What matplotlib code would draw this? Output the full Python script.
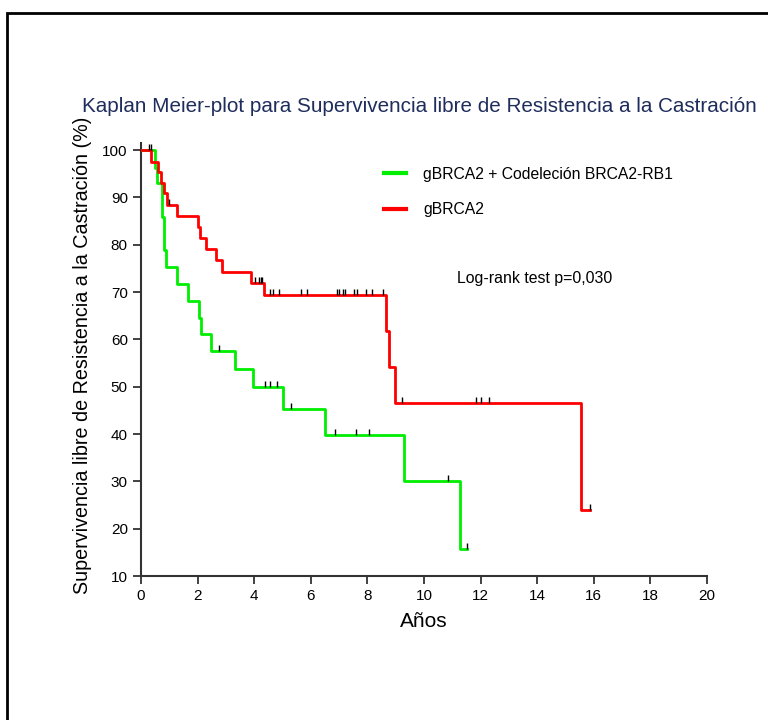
import numpy as np
import matplotlib.pyplot as plt
from matplotlib.patches import Rectangle
from matplotlib.path import Path

plt.rcParams['font.family'] = ['Liberation Sans', 'DejaVu Sans']

# Kaplan-Meier steps (years, % free of castration resistance)
codel_times = [0, 0.49, 0.58, 0.75, 0.82, 0.88, 1.28, 1.67, 2.05, 2.12, 2.47,
               3.32, 3.95, 5.0, 6.50, 9.29, 11.27, 11.51]
codel_surv = [100, 96.3, 93.0, 85.8, 78.9, 75.4, 71.7, 68.2, 64.6, 61.1, 57.5,
              53.7, 50.0, 45.2, 39.8, 30.0, 15.8, 15.8]
codel_censor = [0.37, 2.77, 4.38, 4.56, 4.82, 5.29, 6.86, 7.59, 8.06, 10.84, 11.51]

brca_times = [0, 0.34, 0.61, 0.69, 0.82, 0.91, 1.26, 2.0, 2.08, 2.30, 2.65,
              2.85, 3.88, 4.36, 8.65, 8.78, 8.97, 15.54, 15.87]
brca_surv = [100, 97.5, 95.3, 93.0, 90.9, 88.4, 86.1, 83.7, 81.4, 79.1, 76.7,
             74.2, 71.9, 69.4, 61.7, 54.1, 46.6, 23.9, 23.9]
brca_censor = [0.28, 0.99, 4.03, 4.18, 4.23, 4.29, 4.56, 4.65, 4.89, 5.65, 5.85,
               6.91, 7.0, 7.12, 7.21, 7.54, 7.62, 7.94, 8.17, 8.54, 9.23,
               11.84, 12.01, 12.30, 15.87]

labels = ["gBRCA2 + Codeleción BRCA2-RB1", "gBRCA2"]
colors = ["#00ee00", "#ff0000"]

x_ticks = np.arange(0, 21, 2)
y_ticks = np.arange(10, 101, 10)

fig = plt.figure(figsize=(7.68, 7.2), dpi=100)
ax = fig.add_axes([0.1836, 0.2, 0.737, 0.6014])

# censor tick: short vertical stroke sitting on top of the curve
tick_mark = Path([(0, 0), (0, 1)], [Path.MOVETO, Path.LINETO])


def km_curve(times, surv, censor, color, label):
    ax.step(times, surv, where="post", color=color, lw=2.0, label=label, zorder=3)
    idx = np.searchsorted(times, censor, side="right") - 1
    levels = np.array(surv)[idx]
    ax.plot(censor, levels, linestyle="none", marker=tick_mark, markersize=9,
            markeredgecolor="black", markeredgewidth=1.0, zorder=4)


km_curve(codel_times, codel_surv, codel_censor, colors[0], labels[0])
km_curve(brca_times, brca_surv, brca_censor, colors[1], labels[1])

ax.set_xlim(0, 20)
ax.set_ylim(10, 101.5)
ax.set_xticks(x_ticks)
ax.set_yticks(y_ticks)
ax.tick_params(direction="out", length=6, width=1.3, labelsize=11, color="#333333")
for side in ["top", "right"]:
    ax.spines[side].set_visible(False)
for side in ["left", "bottom"]:
    ax.spines[side].set_linewidth(1.5)
    ax.spines[side].set_color("#333333")

ax.set_ylabel("Supervivencia libre de Resistencia a la Castración (%)", fontsize=14.2)
ax.yaxis.set_label_coords(-0.087, 0.51)
ax.set_xlabel("Años", fontsize=15, va="top")
ax.xaxis.set_label_coords(0.5, -0.083)

ax.legend(loc="upper left", bbox_to_anchor=(0.429, 0.945), frameon=False,
          fontsize=11.3, handlelength=1.4, handletextpad=1.1,
          labelspacing=1.3, borderpad=0, borderaxespad=0)
for line in ax.get_legend().get_lines():
    line.set_linewidth(3)

ax.text(13.92, 72.8, "Log-rank test p=0,030", ha="center", va="center", fontsize=11.4)

fig.text(82 / 768, 0.852, "Kaplan Meier-plot para Supervivencia libre de Resistencia a la Castración",
         ha="left", va="center", fontsize=14.9, color="#1f2d5c")

# outer frame, cut off at the right and bottom edges
fig.patches.append(Rectangle((7 / 768, -0.2), 1.5, 1.2 - 12.5 / 720, transform=fig.transFigure,
                             fill=False, edgecolor="black", linewidth=2))

fig.savefig("out.png", dpi=100)
